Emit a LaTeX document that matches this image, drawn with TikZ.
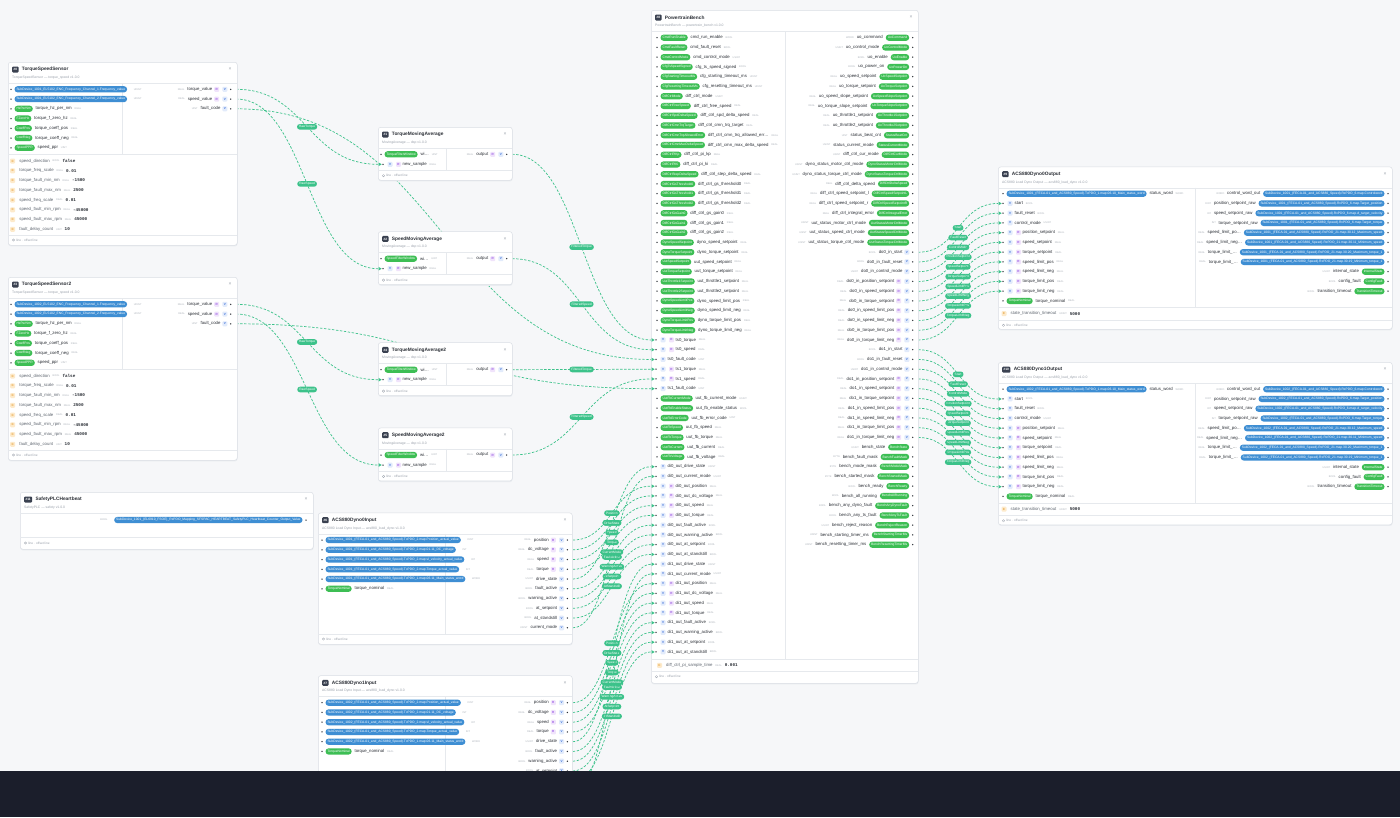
\documentclass[tikz,border=0pt]{standalone}
\usepackage{fontspec}
\setmainfont{Liberation Sans}
\setmonofont{Liberation Mono}
\usetikzlibrary{arrows.meta,calc}
\pgfdeclarelayer{bglayer}
\pgfdeclarelayer{edgelayer}
\pgfsetlayers{bglayer,edgelayer,main}
\definecolor{canvas}{HTML}{F6F7F9}
\definecolor{cardline}{HTML}{DADEE4}
\definecolor{shadowc}{HTML}{E9ECF0}
\definecolor{sepc}{HTML}{E6E9ED}
\definecolor{txt}{HTML}{2B2F36}
\definecolor{muted}{HTML}{9AA1AB}
\definecolor{tagc}{HTML}{AEB4BC}
\definecolor{ctxt}{HTML}{5F6670}
\definecolor{pblue}{HTML}{3E8ED3}
\definecolor{pgreen}{HTML}{3DBE54}
\definecolor{edgec}{HTML}{3CC28A}
\definecolor{badgebg}{HTML}{3A4150}
\definecolor{vbg}{HTML}{E2EBFB}
\definecolor{vfg}{HTML}{3B6FD8}
\definecolor{rbg}{HTML}{F0E3FB}
\definecolor{rfg}{HTML}{9B5DE5}
\definecolor{cbg}{HTML}{FDEACB}
\definecolor{cfg}{HTML}{E39A2E}
\definecolor{band}{HTML}{1B1E2B}
\tikzset{
  card/.style={draw=cardline, fill=white, rounded corners=2.5, line width=0.5, inner sep=0},
  cardshadow/.style={fill=shadowc, rounded corners=2.5, inner sep=0},
  sepline/.style={draw=sepc, line width=0.4},
  t5/.style={font=\fontsize{4.3}{5}\selectfont, text=txt, inner sep=0},
  ttl/.style={font=\fontsize{4.8}{5.5}\selectfont\bfseries, text=txt, inner sep=0},
  sub/.style={font=\fontsize{3.4}{4}\selectfont, text=muted, inner sep=0, anchor=west},
  tag/.style={font=\fontsize{2.5}{3}\selectfont, text=tagc, inner sep=0},
  pillbase/.style={text=white, rounded corners=3.1, font=\fontsize{3.3}{3.8}\selectfont, inner xsep=2, inner ysep=0, minimum height=6.3},
  bpill/.style={pillbase, fill=pblue},
  gpill/.style={pillbase, fill=pgreen},
  idbadge/.style={fill=badgebg, text=white, rounded corners=1, font=\fontsize{3.2}{4}\selectfont\bfseries, inner xsep=1.4, inner ysep=0, minimum height=6},
  closex/.style={font=\fontsize{5}{5}\selectfont, text=muted, inner sep=0},
  sq/.style={rounded corners=1, inner sep=0, minimum size=5, font=\fontsize{3}{3}\selectfont\bfseries},
  vb/.style={sq, fill=vbg, text=vfg},
  rb/.style={sq, fill=rbg, text=rfg},
  cb/.style={sq, fill=cbg, text=cfg},
  val/.style={font=\ttfamily\bfseries\fontsize{4.3}{5}\selectfont, text=txt, inner sep=0},
  foot/.style={font=\fontsize{3.2}{4}\selectfont, text=muted, inner sep=0},
  edgeline/.style={draw=edgec, line width=0.7, dash pattern=on 2.4pt off 1.6pt},
  elabel/.style={fill=edgec, text=white, rounded corners=2.7, font=\fontsize{3.2}{3.5}\selectfont, inner xsep=2, inner ysep=0, minimum height=5.6},
}
\catcode`\_=12
\newcounter{rc}
\newcommand\nr{\stepcounter{rc}\edef\rn{r\arabic{rc}}}
% card frame: name, x1, y1, x2, y2, id, title, subtitle
\newcommand\CardHead[8]{%
  \node[cardshadow, anchor=north west, minimum width=#4-#2, minimum height=#5-#3] (#1-sh) at (#2+0.3,#3+1.2) {};
  \node[card, anchor=north west, minimum width=#4-#2, minimum height=#5-#3] (#1) at (#2,#3) {};
  \node[idbadge, anchor=west] (#1-id) at (#2+4,#3+7.5) {\##6};
  \node[ttl, anchor=west, xshift=3] (#1-title) at (#1-id.east) {#7};
  \node[closex] (#1-x) at (#4-7,#3+7.3) {×};
  \node[sub] (#1-sub) at (#2+4,#3+15.5) {#8};
  \draw[sepline] (#2,#3+21) -- (#4,#3+21);
}
% left pill row: bullet x, y, style, pill, name, tag
\newcommand\Lpill[6]{\nr
  \fill[txt] (#1,#2) circle (0.75);
  \node[#3, anchor=west] (\rn-p) at (#1+3.3,#2) {#4};
  \node[t5, anchor=west, xshift=2.5] (\rn-n) at (\rn-p.east) {#5};
  \node[tag, anchor=west, xshift=2.5] (\rn-t) at (\rn-n.east) {#6};
}
% right pill row: bullet x, y, style, pill, name, tag
\newcommand\Rpill[6]{\nr
  \fill[txt] (#1,#2) circle (0.75);
  \node[#3, anchor=east] (\rn-p) at (#1-3.3,#2) {#4};
  \node[t5, anchor=east, xshift=-2.5] (\rn-n) at (\rn-p.west) {#5};
  \node[tag, anchor=east, xshift=-2.5] (\rn-t) at (\rn-n.west) {#6};
}
% left input port: card x, y, R?, name, tag, coordinate
\newcommand\Lport[6]{\nr
  \coordinate (#6) at (#1,#2);
  \fill[edgec] (#1+0.6,#2-1.8) -- (#1+3.7,#2) -- (#1+0.6,#2+1.8) -- cycle;
  \fill[txt] (#1+5,#2) circle (0.75);
  \node[vb] (\rn-v) at (#1+12,#2) {V};
  \ifnum#3=1\relax
    \node[rb] (\rn-r) at (#1+20.5,#2) {R};
    \node[t5, anchor=west] (\rn-n) at (#1+24.5,#2) {#4};
  \else
    \node[t5, anchor=west] (\rn-n) at (#1+16.5,#2) {#4};
  \fi
  \node[tag, anchor=west, xshift=2.5] (\rn-t) at (\rn-n.east) {#5};
}
% right output port: bullet x, y, R?, name, tag, coordinate
\newcommand\Rport[6]{\nr
  \fill[txt] (#1,#2) circle (0.75);
  \node[vb] (\rn-v) at (#1-5.8,#2) {V};
  \ifnum#3=1\relax
    \node[rb] (\rn-r) at (#1-14,#2) {R};
    \node[t5, anchor=east] (\rn-n) at (#1-18.3,#2) {#4};
  \else
    \node[t5, anchor=east] (\rn-n) at (#1-10,#2) {#4};
  \fi
  \node[tag, anchor=east, xshift=-2.5] (\rn-t) at (\rn-n.west) {#5};
  \coordinate (#6) at (#1+5.5,#2);
}
% constant row: icon x, y, name, tag, value
\newcommand\Crow[5]{\nr
  \node[cb] (\rn-c) at (#1,#2) {C};
  \node[t5, text=ctxt, anchor=west] (\rn-n) at (#1+6.5,#2) {#3};
  \node[tag, anchor=west, xshift=2.5] (\rn-t) at (\rn-n.east) {#4};
  \node[val, anchor=west, xshift=2.5] (\rn-v) at (\rn-t.east) {#5};
}
\newcommand\Foot[4]{\nr
  \draw[sepline] (#1,#3) -- (#2,#3);
  \draw[muted, line width=0.3] (#1+5.5,#4) circle (1.2);
  \node[foot, anchor=west] (\rn-f) at (#1+8,#4) {line · offset line};
}
\newcommand\Edge[3]{\nr
  \draw[edgeline] let \p1=(#1), \p2=(#2), \n1={max(20,(\x2-\x1)/2)} in (\p1) .. controls +(\n1,0) and +(-\n1,0) .. (\p2) node[elabel, pos=0.5] (\rn-l) {#3};
}
\newcommand\EdgeN[2]{%
  \draw[edgeline] let \p1=(#1), \p2=(#2), \n1={max(20,(\x2-\x1)/2)} in (\p1) .. controls +(\n1,0) and +(-\n1,0) .. (\p2);
}
% TorqueSpeedSensor card: name, top, id, title, device
\newcommand\TSScard[5]{%
  \CardHead{#1}{8}{#2}{237}{#2+183}{#3}{#4}{TorqueSpeedSensor — torque_speed v1.0.0}
  \draw[sepline] (122,#2+21) -- (122,#2+92.5);
  \draw[sepline] (8,#2+92.5) -- (237,#2+92.5);
  \Lpill{11}{#2+27.3}{bpill}{SubDevice_#5_EL5102_ENC_Frequency_Channel_1.Frequency_value}{}{UDINT}
  \Lpill{11}{#2+37.05}{bpill}{SubDevice_#5_EL5102_ENC_Frequency_Channel_2.Frequency_value}{}{UDINT}
  \Lpill{11}{#2+46.8}{gpill}{HzPerNm}{torque_hz_per_nm}{REAL}
  \Lpill{11}{#2+56.55}{gpill}{FZeroHz}{torque_f_zero_hz}{REAL}
  \Lpill{11}{#2+66.3}{gpill}{CoeffPos}{torque_coeff_pos}{REAL}
  \Lpill{11}{#2+76.05}{gpill}{CoeffNeg}{torque_coeff_neg}{REAL}
  \Lpill{11}{#2+85.8}{gpill}{SpeedPPR}{speed_ppr}{UINT}
  \Rport{230.7}{#2+27.3}{1}{torque_value}{REAL}{#1-tq}
  \Rport{230.7}{#2+37.05}{1}{speed_value}{REAL}{#1-sp}
  \Rport{230.7}{#2+46.8}{0}{fault_code}{UINT}{#1-fc}
  \Crow{12.7}{#2+99}{speed_direction}{BOOL}{false}
  \Crow{12.7}{#2+108.75}{torque_freq_scale}{REAL}{0.01}
  \Crow{12.7}{#2+118.5}{torque_fault_min_nm}{REAL}{-1500}
  \Crow{12.7}{#2+128.25}{torque_fault_max_nm}{REAL}{2500}
  \Crow{12.7}{#2+138}{speed_freq_scale}{REAL}{0.01}
  \Crow{12.7}{#2+147.75}{speed_fault_min_rpm}{REAL}{-45000}
  \Crow{12.7}{#2+157.5}{speed_fault_max_rpm}{REAL}{45000}
  \Crow{12.7}{#2+167.25}{fault_delay_count}{UINT}{10}
  \Foot{8}{237}{#2+173}{#2+178}
}
% MovingAverage card: name, top, id, title, pill
\newcommand\MAcard[5]{%
  \CardHead{#1}{378}{#2}{512}{#2+53}{#3}{#4}{MovingAverage — dsp v1.0.0}
  \draw[sepline] (446,#2+21) -- (446,#2+43);
  \Lpill{381}{#2+27.3}{gpill}{#5}{wi…}{UINT}
  \Rport{506.7}{#2+27.3}{1}{output}{REAL}{#1-out}
  \Lport{378}{#2+37.3}{1}{new_sample}{REAL}{#1-in}
  \Foot{378}{512}{#2+43}{#2+48.7}
}
% ACS880 output card: name, top, id, title, device
\newcommand\DynoOut[5]{%
  \CardHead{#1}{998}{#2}{1392}{#2+162.3}{#3}{#4}{ACS880 Load Dyno Output — acs880_load_dyno v1.0.0}
  \draw[sepline] (1195,#2+21) -- (1195,#2+140.5);
  \draw[sepline] (998,#2+140.5) -- (1392,#2+140.5);
  \Lpill{1003}{#2+27}{bpill}{SubDevice_#5_(FECA-01_and_ACS880_Speed).TxPDO_1.map.06.10_Main_status_word}{status_word}{WORD}
  \Lport{998}{#2+36.75}{0}{start}{BOOL}{#1-i1}
  \Lport{998}{#2+46.5}{0}{fault_reset}{BOOL}{#1-i2}
  \Lport{998}{#2+56.25}{0}{control_mode}{USINT}{#1-i3}
  \Lport{998}{#2+66}{1}{position_setpoint}{REAL}{#1-i4}
  \Lport{998}{#2+75.75}{1}{speed_setpoint}{REAL}{#1-i5}
  \Lport{998}{#2+85.5}{1}{torque_setpoint}{REAL}{#1-i6}
  \Lport{998}{#2+95.25}{1}{speed_limit_pos}{REAL}{#1-i7}
  \Lport{998}{#2+105}{1}{speed_limit_neg}{REAL}{#1-i8}
  \Lport{998}{#2+114.75}{1}{torque_limit_pos}{REAL}{#1-i9}
  \Lport{998}{#2+124.5}{1}{torque_limit_neg}{REAL}{#1-i10}
  \Lpill{1003}{#2+134.25}{gpill}{TorqueNominal}{torque_nominal}{REAL}
  \Rpill{1388}{#2+27}{bpill}{SubDevice_#5_(FECA-01_and_ACS880_Speed).RxPDO_6.map.Controlword}{control_word_out}{WORD}
  \Rpill{1388}{#2+36.75}{bpill}{SubDevice_#5_(FECA-01_and_ACS880_Speed).RxPDO_6.map.Target_position}{position_setpoint_raw}{DINT}
  \Rpill{1388}{#2+46.5}{bpill}{SubDevice_#5_(FECA-01_and_ACS880_Speed).RxPDO_6.map.vl_target_velocity}{speed_setpoint_raw}{INT}
  \Rpill{1388}{#2+56.25}{bpill}{SubDevice_#5_(FECA-01_and_ACS880_Speed).RxPDO_6.map.Target_torque}{torque_setpoint_raw}{INT}
  \Rpill{1388}{#2+66}{bpill}{SubDevice_#5_(FECA-01_and_ACS880_Speed).RxPDO_21.map.30.12_Maximum_speed}{speed_limit_po…}{REAL}
  \Rpill{1388}{#2+75.75}{bpill}{SubDevice_#5_(FECA-01_and_ACS880_Speed).RxPDO_21.map.30.11_Minimum_speed}{speed_limit_neg…}{REAL}
  \Rpill{1388}{#2+85.5}{bpill}{SubDevice_#5_(FECA-01_and_ACS880_Speed).RxPDO_21.map.30.20_Maximum_torque_1}{torque_limit_…}{REAL}
  \Rpill{1388}{#2+95.25}{bpill}{SubDevice_#5_(FECA-01_and_ACS880_Speed).RxPDO_21.map.30.19_Minimum_torque_1}{torque_limit_…}{REAL}
  \Rpill{1388}{#2+105}{gpill}{InternalState}{internal_state}{USINT}
  \Rpill{1388}{#2+114.75}{gpill}{ConfigFault}{config_fault}{BOOL}
  \Rpill{1388}{#2+124.5}{gpill}{TransitionTimeout}{transition_timeout}{BOOL}
  \Crow{1004}{#2+147}{state_transition_timeout}{UDINT}{5000}
  \Foot{998}{1392}{#2+153}{#2+158.6}
}
% ACS880 input card: name, top, id, title, device
\newcommand\DynoIn[5]{%
  \CardHead{#1}{318}{#2}{572}{#2+131.3}{#3}{#4}{ACS880 Load Dyno Input — acs880_load_dyno v1.0.0}
  \draw[sepline] (445,#2+21) -- (445,#2+121);
  \Lpill{322}{#2+27.3}{bpill}{SubDevice_#5_(FECA-01_and_ACS880_Speed).TxPDO_2.map.Position_actual_value}{}{DINT}
  \Lpill{322}{#2+37.05}{bpill}{SubDevice_#5_(FECA-01_and_ACS880_Speed).TxPDO_2.map.01.11_DC_voltage}{}{INT}
  \Lpill{322}{#2+46.8}{bpill}{SubDevice_#5_(FECA-01_and_ACS880_Speed).TxPDO_2.map.vl_velocity_actual_value}{}{INT}
  \Lpill{322}{#2+56.55}{bpill}{SubDevice_#5_(FECA-01_and_ACS880_Speed).TxPDO_2.map.Torque_actual_value}{}{INT}
  \Lpill{322}{#2+66.3}{bpill}{SubDevice_#5_(FECA-01_and_ACS880_Speed).TxPDO_1.map.06.11_Main_status_word}{}{WORD}
  \Lpill{322}{#2+76.05}{gpill}{TorqueNominal}{torque_nominal}{REAL}
  \Rport{567.3}{#2+27.3}{1}{position}{REAL}{#1-o0}
  \Rport{567.3}{#2+37.05}{1}{dc_voltage}{REAL}{#1-o1}
  \Rport{567.3}{#2+46.8}{1}{speed}{REAL}{#1-o2}
  \Rport{567.3}{#2+56.55}{1}{torque}{REAL}{#1-o3}
  \Rport{567.3}{#2+66.3}{0}{drive_state}{USINT}{#1-o4}
  \Rport{567.3}{#2+76.05}{0}{fault_active}{BOOL}{#1-o5}
  \Rport{567.3}{#2+85.8}{0}{warning_active}{BOOL}{#1-o6}
  \Rport{567.3}{#2+95.55}{0}{at_setpoint}{BOOL}{#1-o7}
  \Rport{567.3}{#2+105.3}{0}{at_standstill}{BOOL}{#1-o8}
  \Rport{567.3}{#2+115.05}{0}{current_mode}{USINT}{#1-o9}
  \Foot{318}{572}{#2+121}{#2+126.3}
}
\begin{document}
\begin{tikzpicture}[x=1pt,y=-1pt]
\useasboundingbox (0,0) rectangle (1400,817);
\begin{pgfonlayer}{bglayer}
  \fill[canvas] (0,0) rectangle (1400,817);
\end{pgfonlayer}

% ---------- sensors and filters ----------
\TSScard{tss}{62}{0}{TorqueSpeedSensor}{1001}
\TSScard{tssb}{277}{3}{TorqueSpeedSensor2}{1002}
\MAcard{tma}{127}{1}{TorqueMovingAverage}{TorqueFilterWindow}
\MAcard{sma}{231.4}{2}{SpeedMovingAverage}{SpeedFilterWindow}
\MAcard{tmab}{342.4}{4}{TorqueMovingAverage2}{TorqueFilterWindow}
\MAcard{smab}{427.7}{5}{SpeedMovingAverage2}{SpeedFilterWindow}

% ---------- safety heartbeat ----------
\CardHead{sf}{20}{492}{313}{549}{11}{SafetyPLCHeartbeat}{SafetyPLC — safety v1.0.0}
\Rpill{306}{520}{bpill}{SubDevice_1001_(EL6910_FSOE)_RxPDO_Mapping_SFSPAC_HEARTBEAT_SafetyPLC_Heartbeat_Counter_Output_Value}{}{BOOL}
\Foot{20}{313}{537}{543}

% ---------- dyno IO cards ----------
\DynoIn{dia}{512.7}{6}{ACS880Dyno0Input}{1001}
\DynoIn{dib}{675.4}{7}{ACS880Dyno1Input}{1002}
\DynoOut{doa}{166.7}{9}{ACS880Dyno0Output}{1001}
\DynoOut{dob}{362.2}{10}{ACS880Dyno1Output}{1002}

% ---------- powertrain bench ----------
\CardHead{pb}{651}{10}{918}{683}{8}{PowertrainBench}{PowertrainBench — powertrain_bench v1.0.0}
\draw[sepline] (785,31) -- (785,659);
\draw[sepline] (651,659) -- (918,659);
\foreach \ia/\pa/\na/\ta in {
0/CmdRunEnable/cmd_run_enable/BOOL,
1/CmdFaultReset/cmd_fault_reset/BOOL,
2/CmdControlMode/cmd_control_mode/USINT,
3/CfgTsSpeedSigned/cfg_ts_speed_signed/BOOL,
4/CfgStartingTimeoutMs/cfg_starting_timeout_ms/UDINT,
5/CfgResettingTimeoutMs/cfg_resetting_timeout_ms/UDINT,
6/DiffCtrlMode/diff_ctrl_mode/USINT,
7/DiffCtrlFreeSpeed/diff_ctrl_free_speed/REAL,
8/DiffCtrlSpdDeltaSpeed/diff_ctrl_spd_delta_speed/REAL,
9/DiffCtrlCmnTrqTarget/diff_ctrl_cmn_trq_target/REAL,
10/DiffCtrlCmnTrqAllowedError/diff_ctrl_cmn_trq_allowed_err…/REAL,
11/DiffCtrlCmnMaxDeltaSpeed/diff_ctrl_cmn_max_delta_speed/REAL,
12/DiffCtrlPiKp/diff_ctrl_pi_kp/REAL,
13/DiffCtrlPiKi/diff_ctrl_pi_ki/REAL,
14/DiffCtrlStepDeltaSpeed/diff_ctrl_step_delta_speed/REAL,
15/DiffCtrlGsThreshold0/diff_ctrl_gs_threshold0/REAL,
16/DiffCtrlGsThreshold1/diff_ctrl_gs_threshold1/REAL,
17/DiffCtrlGsThreshold2/diff_ctrl_gs_threshold2/REAL,
18/DiffCtrlGsGain0/diff_ctrl_gs_gain0/REAL,
19/DiffCtrlGsGain1/diff_ctrl_gs_gain1/REAL,
20/DiffCtrlGsGain2/diff_ctrl_gs_gain2/REAL,
21/DynoSpeedSetpoint/dyno_speed_setpoint/REAL,
22/DynoTorqueSetpoint/dyno_torque_setpoint/REAL,
23/UutSpeedSetpoint/uut_speed_setpoint/REAL,
24/UutTorqueSetpoint/uut_torque_setpoint/REAL,
25/UutThrottle1Setpoint/uut_throttle1_setpoint/REAL,
26/UutThrottle2Setpoint/uut_throttle2_setpoint/REAL,
27/DynoSpeedLimitPos/dyno_speed_limit_pos/REAL,
28/DynoSpeedLimitNeg/dyno_speed_limit_neg/REAL,
29/DynoTorqueLimitPos/dyno_torque_limit_pos/REAL,
30/DynoTorqueLimitNeg/dyno_torque_limit_neg/REAL,
37/UutFbCurrentMode/uut_fb_current_mode/USINT,
38/UutFbEnableStatus/uut_fb_enable_status/BOOL,
39/UutFbErrorCode/uut_fb_error_code/UINT,
40/UutFbSpeed/uut_fb_speed/REAL,
41/UutFbTorque/uut_fb_torque/REAL,
42/UutFbCurrent/uut_fb_current/REAL,
43/UutFbVoltage/uut_fb_voltage/REAL}
{\Lpill{657}{37.7+9.75*\ia}{gpill}{\pa}{\na}{\ta}}
\foreach \ia/\ra/\na/\ta in {
31/1/ts0_torque/REAL, 32/1/ts0_speed/REAL, 33/0/ts0_fault_code/UINT,
34/1/ts1_torque/REAL, 35/1/ts1_speed/REAL, 36/0/ts1_fault_code/UINT,
44/0/di0_out_drive_state/USINT, 45/0/di0_out_current_mode/USINT,
46/1/di0_out_position/REAL, 47/1/di0_out_dc_voltage/REAL,
48/1/di0_out_speed/REAL, 49/1/di0_out_torque/REAL,
50/0/di0_out_fault_active/BOOL, 51/0/di0_out_warning_active/BOOL,
52/0/di0_out_at_setpoint/BOOL, 53/0/di0_out_at_standstill/BOOL,
54/0/di1_out_drive_state/USINT, 55/0/di1_out_current_mode/USINT,
56/1/di1_out_position/REAL, 57/1/di1_out_dc_voltage/REAL,
58/1/di1_out_speed/REAL, 59/1/di1_out_torque/REAL,
60/0/di1_out_fault_active/BOOL, 61/0/di1_out_warning_active/BOOL,
62/0/di1_out_at_setpoint/BOOL, 63/0/di1_out_at_standstill/BOOL}
{\Lport{651}{37.7+9.75*\ia}{\ra}{\na}{\ta}{pb-i\ia}}
\foreach \ia/\pa/\na/\ta in {
0/UoCommand/uo_command/WORD,
1/UoControlMode/uo_control_mode/USINT,
2/UoEnable/uo_enable/BOOL,
3/UoPowerOn/uo_power_on/BOOL,
4/UoSpeedSetpoint/uo_speed_setpoint/REAL,
5/UoTorqueSetpoint/uo_torque_setpoint/REAL,
6/UoSpeedSlopeSetpoint/uo_speed_slope_setpoint/REAL,
7/UoTorqueSlopeSetpoint/uo_torque_slope_setpoint/REAL,
8/UoThrottle1Setpoint/uo_throttle1_setpoint/REAL,
9/UoThrottle2Setpoint/uo_throttle2_setpoint/REAL,
10/StatusBeatCnt/status_beat_cnt/UINT,
11/StatusCurrentMode/status_current_mode/USINT,
12/DiffCtrlCurMode/diff_ctrl_cur_mode/USINT,
13/DynoStatusMotorCtrlMode/dyno_status_motor_ctrl_mode/USINT,
14/DynoStatusTorqueCtrlMode/dyno_status_torque_ctrl_mode/USINT,
15/DiffCtrlDeltaSpeed/diff_ctrl_delta_speed/REAL,
16/DiffCtrlSpeedSetpointL/diff_ctrl_speed_setpoint_l/REAL,
17/DiffCtrlSpeedSetpointR/diff_ctrl_speed_setpoint_r/REAL,
18/DiffCtrlIntegralError/diff_ctrl_integral_error/REAL,
19/UutStatusMotorCtrlMode/uut_status_motor_ctrl_mode/USINT,
20/UutStatusSpeedCtrlMode/uut_status_speed_ctrl_mode/USINT,
21/UutStatusTorqueCtrlMode/uut_status_torque_ctrl_mode/USINT,
42/BenchState/bench_state/USINT,
43/BenchFaultMask/bench_fault_mask/BYTE,
44/BenchModeMask/bench_mode_mask/BYTE,
45/BenchStartedMask/bench_started_mask/BYTE,
46/BenchReady/bench_ready/BOOL,
47/BenchAllRunning/bench_all_running/BOOL,
48/BenchAnyDynoFault/bench_any_dyno_fault/BOOL,
49/BenchAnyTsFault/bench_any_ts_fault/BOOL,
50/BenchRejectReason/bench_reject_reason/USINT,
51/BenchStartingTimerMs/bench_starting_timer_ms/UDINT,
52/BenchResettingTimerMs/bench_resetting_timer_ms/UDINT}
{\Rpill{912.7}{37.7+9.75*\ia}{gpill}{\pa}{\na}{\ta}}
\foreach \ia/\ra/\na/\ta in {
22/0/do0_in_start/BOOL, 23/0/do0_in_fault_reset/BOOL, 24/0/do0_in_control_mode/USINT,
25/1/do0_in_position_setpoint/REAL, 26/1/do0_in_speed_setpoint/REAL, 27/1/do0_in_torque_setpoint/REAL,
28/1/do0_in_speed_limit_pos/REAL, 29/1/do0_in_speed_limit_neg/REAL,
30/1/do0_in_torque_limit_pos/REAL, 31/1/do0_in_torque_limit_neg/REAL,
32/0/do1_in_start/BOOL, 33/0/do1_in_fault_reset/BOOL, 34/0/do1_in_control_mode/USINT,
35/1/do1_in_position_setpoint/REAL, 36/1/do1_in_speed_setpoint/REAL, 37/1/do1_in_torque_setpoint/REAL,
38/1/do1_in_speed_limit_pos/REAL, 39/1/do1_in_speed_limit_neg/REAL,
40/1/do1_in_torque_limit_pos/REAL, 41/1/do1_in_torque_limit_neg/REAL}
{\Rport{912.7}{37.7+9.75*\ia}{\ra}{\na}{\ta}{pb-o\ia}}
\Crow{659.5}{665.3}{diff_ctrl_pi_sample_time}{REAL}{0.001}
\Foot{651}{918}{671}{676.7}

% ---------- connectors ----------
\begin{pgfonlayer}{edgelayer}
\Edge{tss-tq}{tma-in}{RawTorque}
\Edge{tss-sp}{sma-in}{RawSpeed}
\EdgeN{tss-fc}{pb-i33}
\Edge{tma-out}{pb-i31}{FilteredTorque}
\Edge{sma-out}{pb-i32}{FilteredSpeed}
\Edge{tssb-tq}{tmab-in}{RawTorque}
\Edge{tssb-sp}{smab-in}{RawSpeed}
\EdgeN{tssb-fc}{pb-i36}
\Edge{tmab-out}{pb-i34}{FilteredTorque}
\Edge{smab-out}{pb-i35}{FilteredSpeed}
\Edge{dia-o0}{pb-i46}{Position}
\Edge{dia-o1}{pb-i47}{DcVoltage}
\Edge{dia-o2}{pb-i48}{Speed}
\Edge{dia-o3}{pb-i49}{Torque}
\Edge{dia-o4}{pb-i44}{DriveState}
\Edge{dia-o5}{pb-i50}{FaultActive}
\Edge{dia-o6}{pb-i51}{WarningActive}
\Edge{dia-o7}{pb-i52}{AtSetpoint}
\Edge{dia-o8}{pb-i53}{AtStandstill}
\Edge{dia-o9}{pb-i45}{CurrentMode}
\Edge{dib-o0}{pb-i56}{Position}
\Edge{dib-o1}{pb-i57}{DcVoltage}
\Edge{dib-o2}{pb-i58}{Speed}
\Edge{dib-o3}{pb-i59}{Torque}
\Edge{dib-o4}{pb-i54}{DriveState}
\Edge{dib-o5}{pb-i60}{FaultActive}
\Edge{dib-o6}{pb-i61}{WarningActive}
\Edge{dib-o7}{pb-i62}{AtSetpoint}
\Edge{dib-o8}{pb-i63}{AtStandstill}
\Edge{dib-o9}{pb-i55}{CurrentMode}
\Edge{pb-o22}{doa-i1}{Start}
\Edge{pb-o23}{doa-i2}{FaultReset}
\Edge{pb-o24}{doa-i3}{ControlMode}
\Edge{pb-o25}{doa-i4}{PositionSetpoint}
\Edge{pb-o26}{doa-i5}{SpeedSetpoint}
\Edge{pb-o27}{doa-i6}{TorqueSetpoint}
\Edge{pb-o28}{doa-i7}{SpeedLimitPos}
\Edge{pb-o29}{doa-i8}{SpeedLimitNeg}
\Edge{pb-o30}{doa-i9}{TorqueLimitPos}
\Edge{pb-o31}{doa-i10}{TorqueLimitNeg}
\Edge{pb-o32}{dob-i1}{Start}
\Edge{pb-o33}{dob-i2}{FaultReset}
\Edge{pb-o34}{dob-i3}{ControlMode}
\Edge{pb-o35}{dob-i4}{PositionSetpoint}
\Edge{pb-o36}{dob-i5}{SpeedSetpoint}
\Edge{pb-o37}{dob-i6}{TorqueSetpoint}
\Edge{pb-o38}{dob-i7}{SpeedLimitPos}
\Edge{pb-o39}{dob-i8}{SpeedLimitNeg}
\Edge{pb-o40}{dob-i9}{TorqueLimitPos}
\Edge{pb-o41}{dob-i10}{TorqueLimitNeg}
\end{pgfonlayer}

% ---------- bottom band ----------
\fill[band] (0,771) rectangle (1400,817);
\end{tikzpicture}
\end{document}
